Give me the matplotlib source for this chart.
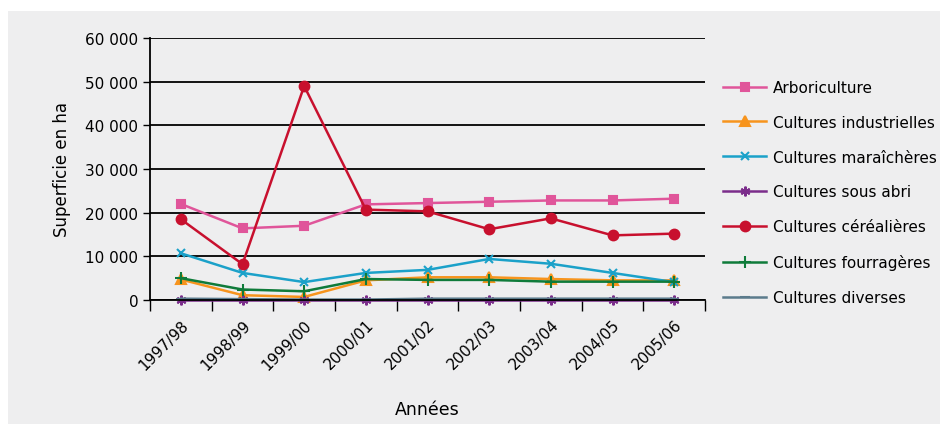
import matplotlib
matplotlib.use("Agg")
import matplotlib.pyplot as plt
from matplotlib.ticker import FuncFormatter
from matplotlib.patches import Rectangle

plt.rcParams['font.family'] = ['DejaVu Sans']

years = ["1997/98", "1998/99", "1999/00", "2000/01", "2001/02",
         "2002/03", "2003/04", "2004/05", "2005/06"]

arboriculture = [22000, 16400, 17000, 21900, 22200, 22500, 22800, 22800, 23200]
industrielles = [4700, 1100, 700, 4500, 5200, 5200, 4800, 4500, 4500]
maraicheres = [10700, 6200, 4100, 6200, 6900, 9400, 8300, 6200, 4100]
sous_abri = [50, 50, 50, 50, 50, 50, 50, 50, 50]
cerealieres = [18500, 8200, 49000, 20700, 20300, 16200, 18700, 14800, 15200]
fourrageres = [5000, 2400, 2000, 4800, 4600, 4600, 4200, 4200, 4200]
diverses = [300, 200, 100, 100, 300, 300, 300, 300, 300]

series = [
    ("Arboriculture", arboriculture, "#E0559A", "s", 6),
    ("Cultures industrielles", industrielles, "#F7941D", "^", 7),
    ("Cultures maraîchères", maraicheres, "#1BA1C9", "x", 6),
    ("Cultures sous abri", sous_abri, "#7B2D8B", (6, 2, 0), 7),
    ("Cultures céréalières", cerealieres, "#C8102E", "o", 7),
    ("Cultures fourragères", fourrageres, "#0F7B3A", "+", 8),
    ("Cultures diverses", diverses, "#5B7B8C", "_", 7),
]

fig = plt.figure(figsize=(9.46, 4.31), dpi=100)
fig.patch.set_facecolor("white")
fig.patches.append(Rectangle((8 / 946, 6 / 431), 932 / 946, 413 / 431,
                             transform=fig.transFigure, facecolor="#EEEEEF",
                             edgecolor="none", zorder=-10))

ax = fig.add_axes([150 / 946, 130 / 431, 555 / 946, 262 / 431])
ax.set_facecolor("none")

x = list(range(len(years)))
for name, vals, color, marker, ms in series:
    ax.plot(x, vals, color=color, marker=marker, markersize=ms, linewidth=1.8,
            markeredgewidth=1.5, label=name, clip_on=False)

ax.set_ylim(0, 60000)
ax.set_xlim(-0.5, len(years) - 0.5)
ax.set_yticks(range(0, 60001, 10000))
ax.yaxis.set_major_formatter(FuncFormatter(lambda v, p: f"{int(v):,}".replace(",", " ")))
ax.grid(axis="y", color="black", linewidth=1.3)
ax.set_axisbelow(True)

ax.set_xticks(x)
ax.set_xticklabels(years, rotation=45, ha="right", rotation_mode="anchor", fontsize=11)
ax.set_xticks([i + 0.5 for i in range(-1, len(years))], minor=True)
ax.tick_params(axis="x", which="major", length=0, pad=12)
ax.tick_params(axis="x", which="minor", length=8, width=1, color="black")
ax.tick_params(axis="y", length=5, width=1, labelsize=11)

for s in ["top", "right"]:
    ax.spines[s].set_visible(False)
ax.spines["left"].set_linewidth(1.3)
ax.spines["bottom"].set_linewidth(1.3)

ax.set_ylabel("Superficie en ha", fontsize=12, labelpad=10)
ax.set_xlabel("Années", fontsize=12.5, labelpad=20)

leg = ax.legend(loc="upper left", bbox_to_anchor=(1.0, 0.91), frameon=False,
                fontsize=11, handlelength=2.8, labelspacing=1.3,
                handletextpad=0.45, borderaxespad=0.8)

fig.savefig("out.png", dpi=100)
